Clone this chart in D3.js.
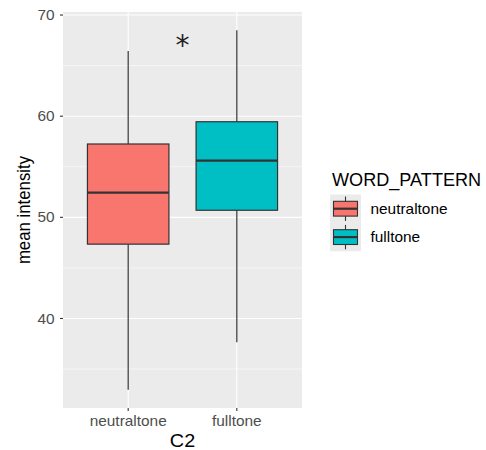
<!DOCTYPE html>
<html><head><meta charset="utf-8">
<script src="https://cdn.jsdelivr.net/npm/d3@7"></script>
<style>body{margin:0;background:#fff}svg{display:block;font-family:"Liberation Sans",Arial,Helvetica,sans-serif}</style>
</head><body>
<script>
const categories = ["neutraltone", "fulltone"];
const colors = ["#F8766D", "#00BFC4"];
const lowerWhisker = [32.95, 37.65];
const q1 = [47.35, 50.7];
const median = [52.45, 55.6];
const q3 = [57.25, 59.45];
const upperWhisker = [66.45, 68.5];
const yTicks = [40, 50, 60, 70];
const yMinor = [35, 45, 55, 65];
const annotation = {label: "*", x: 1.5, y: 67.5};

const W = 486, H = 450;
const P = {left: 63, right: 302, top: 12, bottom: 408};
const SX = 1.1;
const svg = d3.select("body").append("svg").attr("width", W).attr("height", H);

function stext(sel, px, py, sx) {
  return sel.attr("transform", (d, i) => `translate(${typeof px === "function" ? px(d, i) : px},${typeof py === "function" ? py(d, i) : py}) scale(${sx},1)`);
}

const x = d3.scaleLinear().domain([0.4, 2.6]).range([P.left, P.right]);
const y = d3.scaleLinear().domain([31.15, 70.3]).range([P.bottom, P.top]);
const unit = x(2) - x(1);

svg.append("rect").attr("x", P.left).attr("y", P.top).attr("width", P.right - P.left).attr("height", P.bottom - P.top).attr("fill", "#ebebeb");

const g = svg.append("g");
g.selectAll(".minor").data(yMinor).join("line")
  .attr("x1", P.left).attr("x2", P.right).attr("y1", d => y(d)).attr("y2", d => y(d))
  .attr("stroke", "#fff").attr("stroke-width", 0.55);
g.selectAll(".major").data(yTicks).join("line")
  .attr("x1", P.left).attr("x2", P.right).attr("y1", d => y(d)).attr("y2", d => y(d))
  .attr("stroke", "#fff").attr("stroke-width", 1.1);
g.selectAll(".vmajor").data(categories).join("line")
  .attr("x1", (d, i) => x(i + 1)).attr("x2", (d, i) => x(i + 1)).attr("y1", P.top).attr("y2", P.bottom)
  .attr("stroke", "#fff").attr("stroke-width", 1.1);

const bw = 0.75 * unit;
const boxes = svg.append("g").selectAll("g").data(categories).join("g");
boxes.append("line")
  .attr("x1", (d, i) => x(i + 1)).attr("x2", (d, i) => x(i + 1))
  .attr("y1", (d, i) => y(upperWhisker[i])).attr("y2", (d, i) => y(q3[i]))
  .attr("stroke", "#333").attr("stroke-width", 1.2);
boxes.append("line")
  .attr("x1", (d, i) => x(i + 1)).attr("x2", (d, i) => x(i + 1))
  .attr("y1", (d, i) => y(q1[i])).attr("y2", (d, i) => y(lowerWhisker[i]))
  .attr("stroke", "#333").attr("stroke-width", 1.2);
boxes.append("rect")
  .attr("x", (d, i) => x(i + 1) - bw / 2).attr("width", bw)
  .attr("y", (d, i) => y(q3[i])).attr("height", (d, i) => y(q1[i]) - y(q3[i]))
  .attr("fill", (d, i) => colors[i]).attr("stroke", "#333").attr("stroke-width", 1.2);
boxes.append("line")
  .attr("x1", (d, i) => x(i + 1) - bw / 2).attr("x2", (d, i) => x(i + 1) + bw / 2)
  .attr("y1", (d, i) => y(median[i])).attr("y2", (d, i) => y(median[i]))
  .attr("stroke", "#333").attr("stroke-width", 2.2);

svg.append("text").attr("x", x(annotation.x)).attr("y", y(annotation.y) + 15)
  .attr("text-anchor", "middle").attr("font-family", "DejaVu Sans").attr("font-size", 28)
  .attr("fill", "#222").text(annotation.label);

// y axis
const ya = svg.append("g");
ya.selectAll("line").data(yTicks).join("line")
  .attr("x1", P.left - 3).attr("x2", P.left).attr("y1", d => y(d)).attr("y2", d => y(d))
  .attr("stroke", "#333").attr("stroke-width", 1.1);
stext(ya.selectAll("text").data(yTicks).join("text"), P.left - 8.5, d => y(d), SX)
  .attr("dy", "0.36em").attr("text-anchor", "end").attr("font-size", 14).attr("fill", "#4d4d4d").text(d => d);

// x axis
const xa = svg.append("g");
xa.selectAll("line").data(categories).join("line")
  .attr("x1", (d, i) => x(i + 1)).attr("x2", (d, i) => x(i + 1)).attr("y1", P.bottom).attr("y2", P.bottom + 3)
  .attr("stroke", "#333").attr("stroke-width", 1.1);
stext(xa.selectAll("text").data(categories).join("text"), (d, i) => x(i + 1), 426, SX)
  .attr("text-anchor", "middle").attr("font-size", 14).attr("fill", "#4d4d4d").text(d => d);

stext(svg.append("text"), (P.left + P.right) / 2, 446.5, SX)
  .attr("text-anchor", "middle").attr("font-size", 18).attr("fill", "#000").text("C2");
svg.append("text").attr("transform", `translate(29.5,${(P.top + P.bottom) / 2}) rotate(-90) scale(1,${SX})`)
  .attr("text-anchor", "middle").attr("font-size", 16.8).attr("fill", "#000").text("mean intensity");

// legend
const lg = svg.append("g").attr("transform", "translate(330,0)");
stext(lg.append("text"), 2, 186.3, 1.035).attr("font-size", 17.5).attr("fill", "#000").text("WORD_PATTERN");
const items = lg.selectAll(".item").data(categories).join("g")
  .attr("transform", (d, i) => `translate(0,${194.5 + i * 28.4})`);
items.append("rect").attr("width", 31).attr("height", 28.4).attr("fill", "#ebebeb");
items.append("line").attr("x1", 15.5).attr("x2", 15.5).attr("y1", 2).attr("y2", 26.4)
  .attr("stroke", "#333").attr("stroke-width", 1.1);
items.append("rect").attr("x", 3.5).attr("y", 6.8).attr("width", 24).attr("height", 14.8)
  .attr("fill", (d, i) => colors[i]).attr("stroke", "#333").attr("stroke-width", 1.1);
items.append("line").attr("x1", 3.5).attr("x2", 27.5).attr("y1", 14.2).attr("y2", 14.2)
  .attr("stroke", "#333").attr("stroke-width", 2.2);
stext(items.append("text"), 40.5, 19, SX)
  .attr("font-size", 14).attr("fill", "#000").text(d => d);
</script>
</body></html>
